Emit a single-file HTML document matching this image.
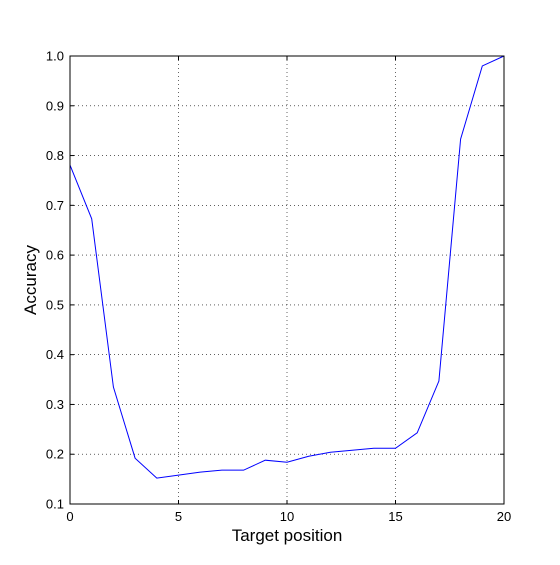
<!DOCTYPE html>
<html><head><meta charset="utf-8"><style>
body{margin:0;background:#fff;}
svg text{font-family:"Liberation Sans",sans-serif;}
</style></head><body>
<svg id="chart" width="560" height="560" xmlns="http://www.w3.org/2000/svg">
<rect width="560" height="560" fill="#fff"/>
<g id="grid"></g>
<g id="ticks"></g>
<polyline id="line" fill="none" stroke="#0000ff" stroke-width="1"/>
<rect x="70" y="56" width="434" height="448" fill="none" stroke="#000" stroke-width="1"/>
<text x="287" y="541" font-size="17" text-anchor="middle">Target position</text>
<text x="36" y="280" font-size="17" text-anchor="middle" transform="rotate(-90 36 280)">Accuracy</text>
</svg>
<script>
const positions=[0,1,2,3,4,5,6,7,8,9,10,11,12,13,14,15,16,17,18,19,20];
const accuracy=[0.781,0.673,0.335,0.192,0.152,0.158,0.164,0.168,0.168,0.188,0.184,0.196,0.204,0.208,0.212,0.212,0.243,0.347,0.833,0.98,1.0];
const xTicks=[0,5,10,15,20];
const yTicks=[0.1,0.2,0.3,0.4,0.5,0.6,0.7,0.8,0.9,1.0];
const L=70,R=504,T=56,B=504;
function sx(v){return L+(v-0)/(20-0)*(R-L);}
function sy(v){return B-(v-0.1)/(1.0-0.1)*(B-T);}
const NS="http://www.w3.org/2000/svg";
const grid=document.getElementById('grid'),ticks=document.getElementById('ticks');
function mk(tag,attrs,parent){const e=document.createElementNS(NS,tag);for(const k in attrs)e.setAttribute(k,attrs[k]);parent.appendChild(e);return e;}
xTicks.forEach(v=>{const x=sx(v);
 const g=mk('line',{x1:x,x2:x,y1:T,y2:B,stroke:'#000','stroke-dasharray':'1,3','stroke-width':0.6},grid);
 
 
 mk('line',{x1:x,x2:x,y1:B,y2:B-4,stroke:'#000'},ticks);
 mk('line',{x1:x,x2:x,y1:T,y2:T+4,stroke:'#000'},ticks);
 const t=mk('text',{x:x,y:B+17,'font-size':13,'text-anchor':'middle'},ticks);t.textContent=v;
 
 
});
yTicks.forEach(v=>{const y=sy(v);
 const g=mk('line',{x1:L,x2:R,y1:y,y2:y,stroke:'#000','stroke-dasharray':'1,3','stroke-width':0.6},grid);
 
 
 mk('line',{x1:L,x2:L+4,y1:y,y2:y,stroke:'#000'},ticks);
 mk('line',{x1:R,x2:R-4,y1:y,y2:y,stroke:'#000'},ticks);
 const t=mk('text',{x:L-6,y:y+4.5,'font-size':13,'text-anchor':'end'},ticks);t.textContent=v.toFixed(1);
 
 
});
document.getElementById('line').setAttribute('points',positions.map((p,i)=>sx(p)+','+sy(accuracy[i])).join(' '));
</script>
</body></html>
